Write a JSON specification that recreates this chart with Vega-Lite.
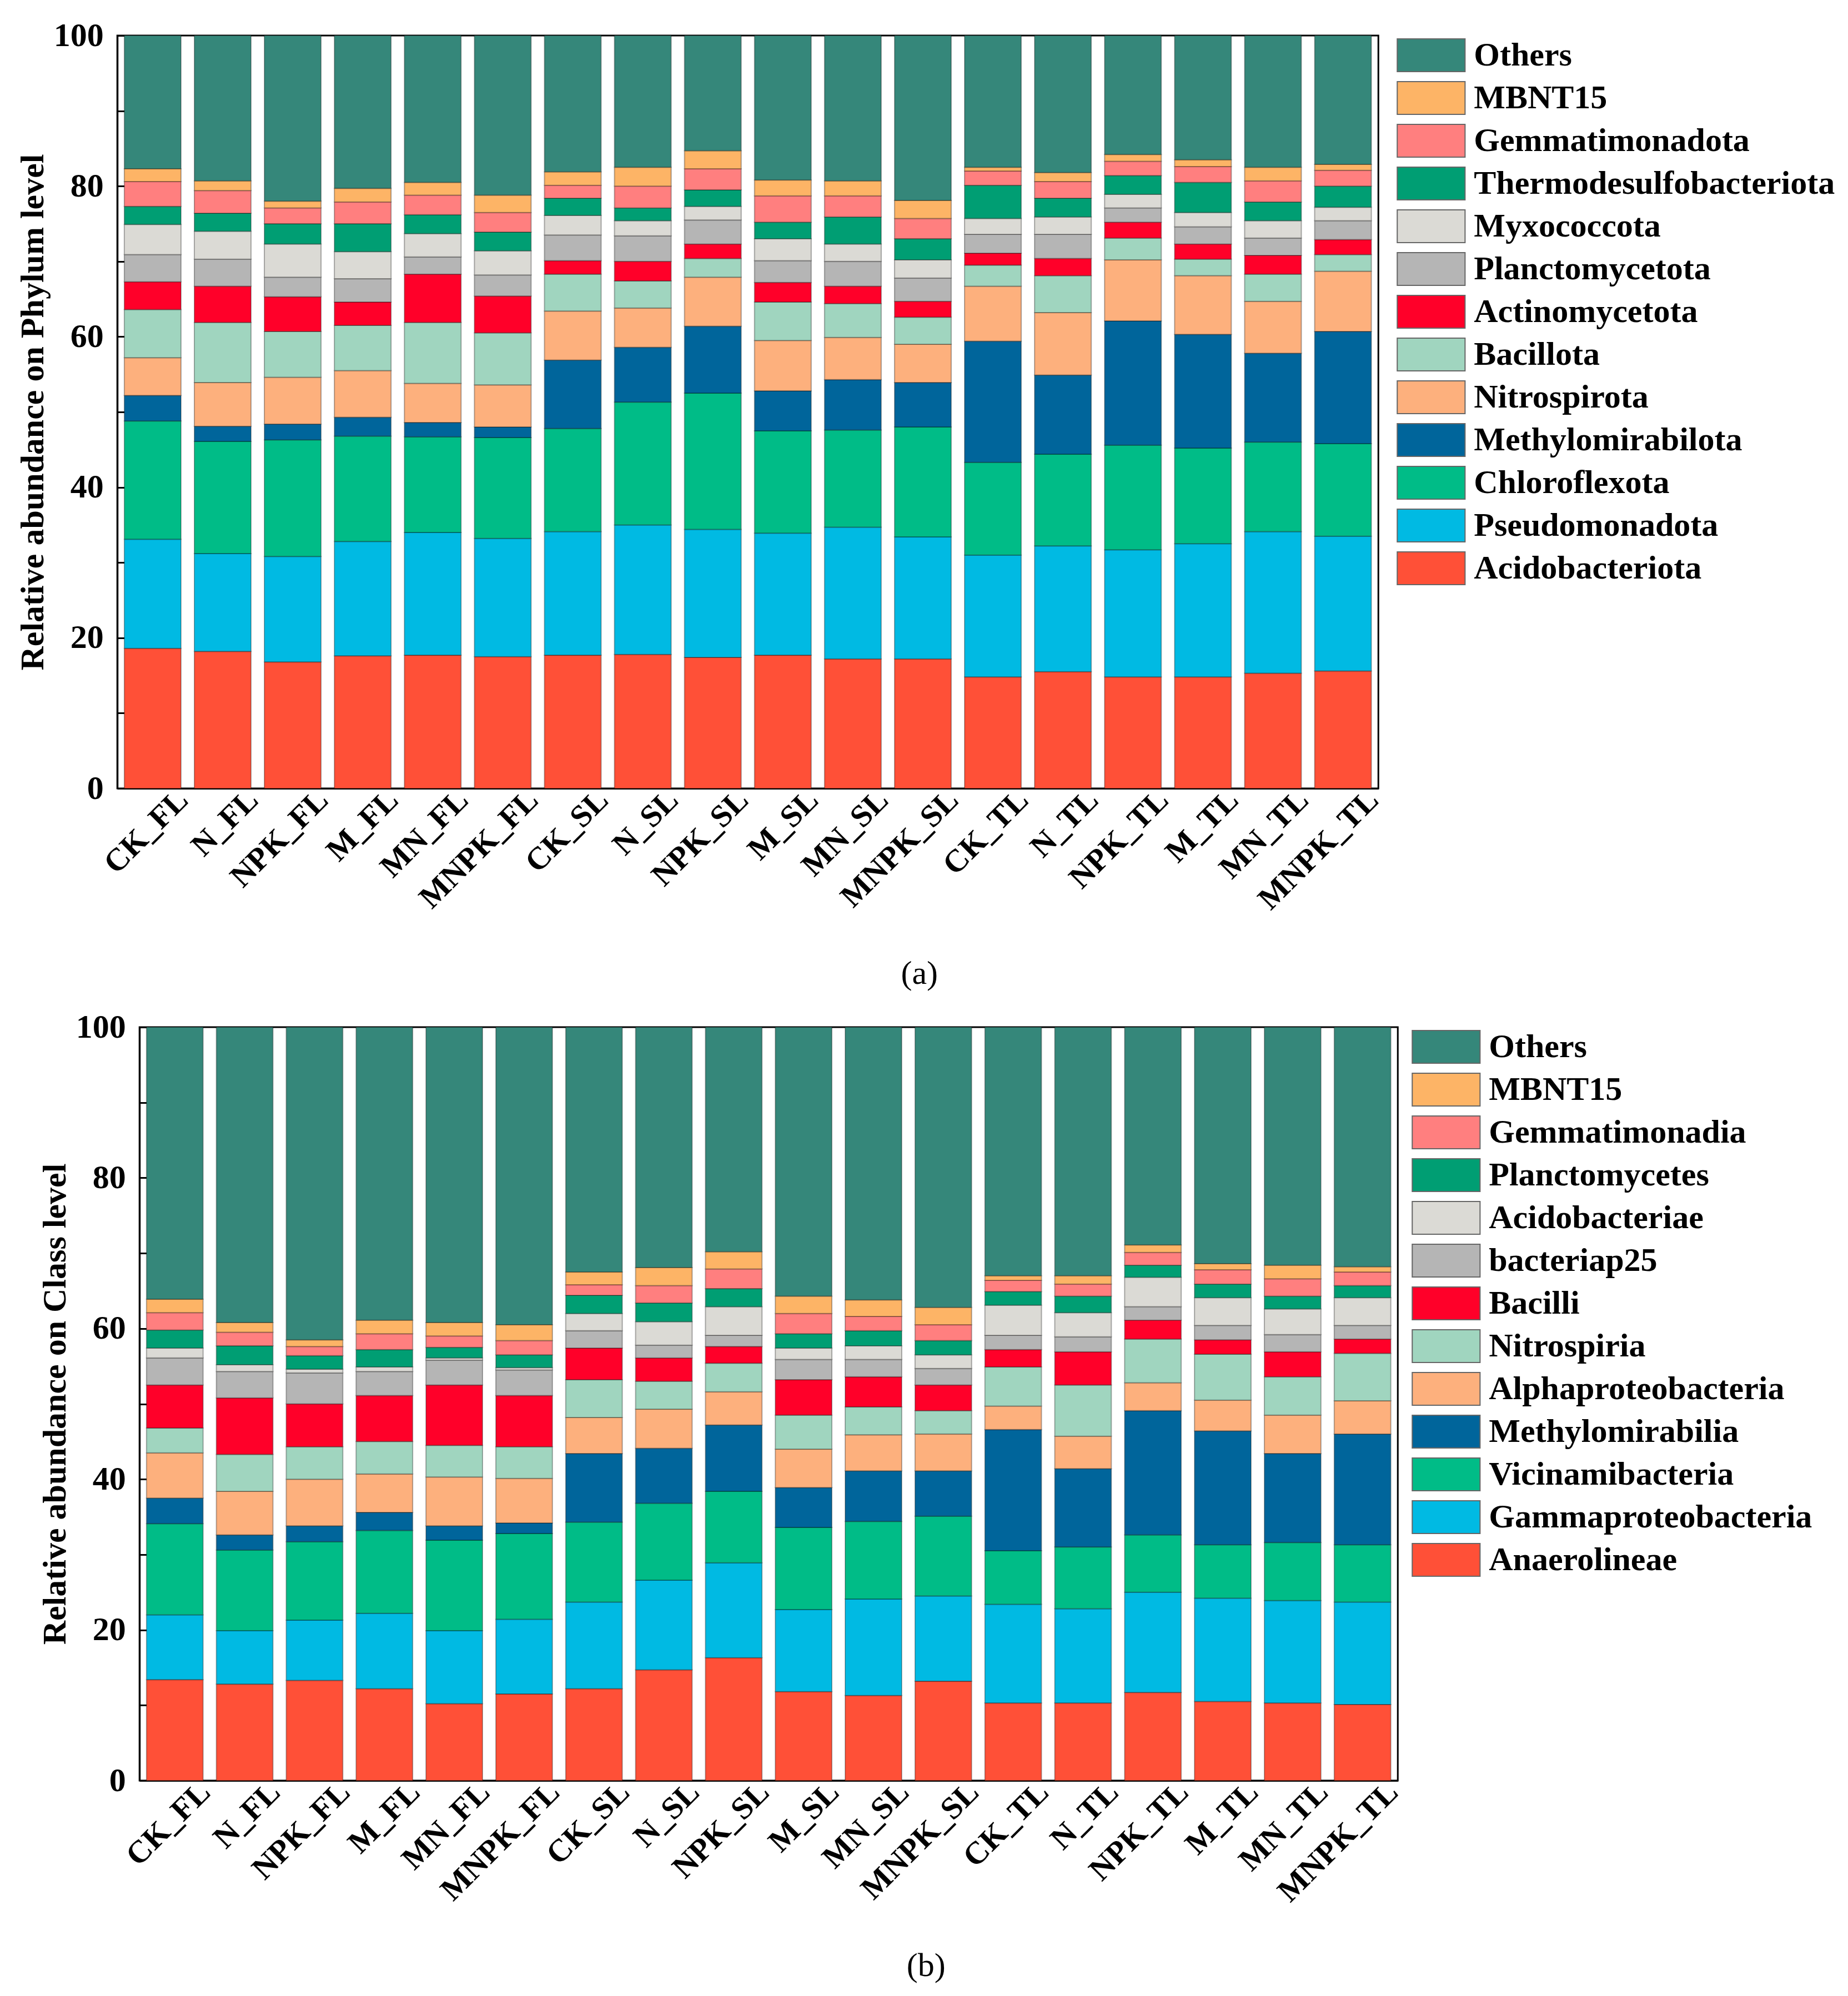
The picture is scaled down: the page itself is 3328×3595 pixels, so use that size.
{
"$schema": "https://vega.github.io/schema/vega-lite/v6.json",
"background": "white",
"padding": {"left": 27, "top": 32, "right": 10, "bottom": 10},
"spacing": 33,
"center": true,
"config": {
  "font": "Liberation Serif",
  "view": {"stroke": "black", "strokeWidth": 3},
  "axis": {"labelFont": "Liberation Serif", "labelFontWeight": "bold", "labelFontSize": 60, "labelColor": "black", "labelLimit": 1000, "titleFont": "Liberation Serif", "titleFontWeight": "bold", "titleFontSize": 60, "titleColor": "black", "titleLimit": 3000, "domainColor": "black", "domainWidth": 3, "tickColor": "black", "tickWidth": 3, "grid": false},
  "legend": {"title": null, "orient": "right", "labelFont": "Liberation Serif", "labelFontWeight": "bold", "labelFontSize": 60, "labelColor": "black", "labelLimit": 1000, "symbolType": "M-1,-1H3.14V1H-1Z", "symbolSize": 3481, "symbolStrokeColor": "#666666", "symbolStrokeWidth": 2, "symbolOpacity": 1, "labelOffset": 78, "rowPadding": 10, "padding": 5, "offset": 18}
},
"datasets": {
"phylumRank": [{"taxon":"Acidobacteriota","rank":1},{"taxon":"Pseudomonadota","rank":2},{"taxon":"Chloroflexota","rank":3},{"taxon":"Methylomirabilota","rank":4},{"taxon":"Nitrospirota","rank":5},{"taxon":"Bacillota","rank":6},{"taxon":"Actinomycetota","rank":7},{"taxon":"Planctomycetota","rank":8},{"taxon":"Myxococcota","rank":9},{"taxon":"Thermodesulfobacteriota","rank":10},{"taxon":"Gemmatimonadota","rank":11},{"taxon":"MBNT15","rank":12},{"taxon":"Others","rank":13}],
"classRank": [{"taxon":"Anaerolineae","rank":1},{"taxon":"Gammaproteobacteria","rank":2},{"taxon":"Vicinamibacteria","rank":3},{"taxon":"Methylomirabilia","rank":4},{"taxon":"Alphaproteobacteria","rank":5},{"taxon":"Nitrospiria","rank":6},{"taxon":"Bacilli","rank":7},{"taxon":"bacteriap25","rank":8},{"taxon":"Acidobacteriae","rank":9},{"taxon":"Planctomycetes","rank":10},{"taxon":"Gemmatimonadia","rank":11},{"taxon":"MBNT15","rank":12},{"taxon":"Others","rank":13}],
"phylum": [
{"sample":"CK_FL","taxon":"Acidobacteriota","value":18.6},{"sample":"CK_FL","taxon":"Pseudomonadota","value":14.5},{"sample":"CK_FL","taxon":"Chloroflexota","value":15.7},{"sample":"CK_FL","taxon":"Methylomirabilota","value":3.4},{"sample":"CK_FL","taxon":"Nitrospirota","value":5.0},{"sample":"CK_FL","taxon":"Bacillota","value":6.4},{"sample":"CK_FL","taxon":"Actinomycetota","value":3.7},{"sample":"CK_FL","taxon":"Planctomycetota","value":3.6},{"sample":"CK_FL","taxon":"Myxococcota","value":4.0},{"sample":"CK_FL","taxon":"Thermodesulfobacteriota","value":2.4},{"sample":"CK_FL","taxon":"Gemmatimonadota","value":3.3},{"sample":"CK_FL","taxon":"MBNT15","value":1.7},{"sample":"CK_FL","taxon":"Others","value":17.7},
{"sample":"N_FL","taxon":"Acidobacteriota","value":18.2},{"sample":"N_FL","taxon":"Pseudomonadota","value":13.0},{"sample":"N_FL","taxon":"Chloroflexota","value":14.9},{"sample":"N_FL","taxon":"Methylomirabilota","value":2.0},{"sample":"N_FL","taxon":"Nitrospirota","value":5.8},{"sample":"N_FL","taxon":"Bacillota","value":8.0},{"sample":"N_FL","taxon":"Actinomycetota","value":4.8},{"sample":"N_FL","taxon":"Planctomycetota","value":3.6},{"sample":"N_FL","taxon":"Myxococcota","value":3.7},{"sample":"N_FL","taxon":"Thermodesulfobacteriota","value":2.4},{"sample":"N_FL","taxon":"Gemmatimonadota","value":3.0},{"sample":"N_FL","taxon":"MBNT15","value":1.3},{"sample":"N_FL","taxon":"Others","value":19.3},
{"sample":"NPK_FL","taxon":"Acidobacteriota","value":16.8},{"sample":"NPK_FL","taxon":"Pseudomonadota","value":14.0},{"sample":"NPK_FL","taxon":"Chloroflexota","value":15.5},{"sample":"NPK_FL","taxon":"Methylomirabilota","value":2.1},{"sample":"NPK_FL","taxon":"Nitrospirota","value":6.2},{"sample":"NPK_FL","taxon":"Bacillota","value":6.1},{"sample":"NPK_FL","taxon":"Actinomycetota","value":4.6},{"sample":"NPK_FL","taxon":"Planctomycetota","value":2.6},{"sample":"NPK_FL","taxon":"Myxococcota","value":4.4},{"sample":"NPK_FL","taxon":"Thermodesulfobacteriota","value":2.7},{"sample":"NPK_FL","taxon":"Gemmatimonadota","value":2.1},{"sample":"NPK_FL","taxon":"MBNT15","value":0.9},{"sample":"NPK_FL","taxon":"Others","value":22.0},
{"sample":"M_FL","taxon":"Acidobacteriota","value":17.6},{"sample":"M_FL","taxon":"Pseudomonadota","value":15.2},{"sample":"M_FL","taxon":"Chloroflexota","value":14.0},{"sample":"M_FL","taxon":"Methylomirabilota","value":2.5},{"sample":"M_FL","taxon":"Nitrospirota","value":6.2},{"sample":"M_FL","taxon":"Bacillota","value":6.0},{"sample":"M_FL","taxon":"Actinomycetota","value":3.1},{"sample":"M_FL","taxon":"Planctomycetota","value":3.1},{"sample":"M_FL","taxon":"Myxococcota","value":3.6},{"sample":"M_FL","taxon":"Thermodesulfobacteriota","value":3.7},{"sample":"M_FL","taxon":"Gemmatimonadota","value":2.9},{"sample":"M_FL","taxon":"MBNT15","value":1.8},{"sample":"M_FL","taxon":"Others","value":20.3},
{"sample":"MN_FL","taxon":"Acidobacteriota","value":17.7},{"sample":"MN_FL","taxon":"Pseudomonadota","value":16.3},{"sample":"MN_FL","taxon":"Chloroflexota","value":12.7},{"sample":"MN_FL","taxon":"Methylomirabilota","value":1.9},{"sample":"MN_FL","taxon":"Nitrospirota","value":5.2},{"sample":"MN_FL","taxon":"Bacillota","value":8.1},{"sample":"MN_FL","taxon":"Actinomycetota","value":6.4},{"sample":"MN_FL","taxon":"Planctomycetota","value":2.3},{"sample":"MN_FL","taxon":"Myxococcota","value":3.1},{"sample":"MN_FL","taxon":"Thermodesulfobacteriota","value":2.5},{"sample":"MN_FL","taxon":"Gemmatimonadota","value":2.6},{"sample":"MN_FL","taxon":"MBNT15","value":1.7},{"sample":"MN_FL","taxon":"Others","value":19.5},
{"sample":"MNPK_FL","taxon":"Acidobacteriota","value":17.5},{"sample":"MNPK_FL","taxon":"Pseudomonadota","value":15.7},{"sample":"MNPK_FL","taxon":"Chloroflexota","value":13.4},{"sample":"MNPK_FL","taxon":"Methylomirabilota","value":1.4},{"sample":"MNPK_FL","taxon":"Nitrospirota","value":5.6},{"sample":"MNPK_FL","taxon":"Bacillota","value":6.9},{"sample":"MNPK_FL","taxon":"Actinomycetota","value":4.9},{"sample":"MNPK_FL","taxon":"Planctomycetota","value":2.8},{"sample":"MNPK_FL","taxon":"Myxococcota","value":3.2},{"sample":"MNPK_FL","taxon":"Thermodesulfobacteriota","value":2.5},{"sample":"MNPK_FL","taxon":"Gemmatimonadota","value":2.6},{"sample":"MNPK_FL","taxon":"MBNT15","value":2.3},{"sample":"MNPK_FL","taxon":"Others","value":21.2},
{"sample":"CK_SL","taxon":"Acidobacteriota","value":17.7},{"sample":"CK_SL","taxon":"Pseudomonadota","value":16.4},{"sample":"CK_SL","taxon":"Chloroflexota","value":13.7},{"sample":"CK_SL","taxon":"Methylomirabilota","value":9.1},{"sample":"CK_SL","taxon":"Nitrospirota","value":6.5},{"sample":"CK_SL","taxon":"Bacillota","value":4.9},{"sample":"CK_SL","taxon":"Actinomycetota","value":1.8},{"sample":"CK_SL","taxon":"Planctomycetota","value":3.4},{"sample":"CK_SL","taxon":"Myxococcota","value":2.6},{"sample":"CK_SL","taxon":"Thermodesulfobacteriota","value":2.3},{"sample":"CK_SL","taxon":"Gemmatimonadota","value":1.7},{"sample":"CK_SL","taxon":"MBNT15","value":1.8},{"sample":"CK_SL","taxon":"Others","value":18.1},
{"sample":"N_SL","taxon":"Acidobacteriota","value":17.8},{"sample":"N_SL","taxon":"Pseudomonadota","value":17.2},{"sample":"N_SL","taxon":"Chloroflexota","value":16.3},{"sample":"N_SL","taxon":"Methylomirabilota","value":7.3},{"sample":"N_SL","taxon":"Nitrospirota","value":5.2},{"sample":"N_SL","taxon":"Bacillota","value":3.6},{"sample":"N_SL","taxon":"Actinomycetota","value":2.6},{"sample":"N_SL","taxon":"Planctomycetota","value":3.4},{"sample":"N_SL","taxon":"Myxococcota","value":2.0},{"sample":"N_SL","taxon":"Thermodesulfobacteriota","value":1.7},{"sample":"N_SL","taxon":"Gemmatimonadota","value":2.9},{"sample":"N_SL","taxon":"MBNT15","value":2.5},{"sample":"N_SL","taxon":"Others","value":17.5},
{"sample":"NPK_SL","taxon":"Acidobacteriota","value":17.4},{"sample":"NPK_SL","taxon":"Pseudomonadota","value":17.0},{"sample":"NPK_SL","taxon":"Chloroflexota","value":18.1},{"sample":"NPK_SL","taxon":"Methylomirabilota","value":8.9},{"sample":"NPK_SL","taxon":"Nitrospirota","value":6.5},{"sample":"NPK_SL","taxon":"Bacillota","value":2.5},{"sample":"NPK_SL","taxon":"Actinomycetota","value":1.9},{"sample":"NPK_SL","taxon":"Planctomycetota","value":3.2},{"sample":"NPK_SL","taxon":"Myxococcota","value":1.8},{"sample":"NPK_SL","taxon":"Thermodesulfobacteriota","value":2.2},{"sample":"NPK_SL","taxon":"Gemmatimonadota","value":2.8},{"sample":"NPK_SL","taxon":"MBNT15","value":2.4},{"sample":"NPK_SL","taxon":"Others","value":15.3},
{"sample":"M_SL","taxon":"Acidobacteriota","value":17.7},{"sample":"M_SL","taxon":"Pseudomonadota","value":16.2},{"sample":"M_SL","taxon":"Chloroflexota","value":13.6},{"sample":"M_SL","taxon":"Methylomirabilota","value":5.3},{"sample":"M_SL","taxon":"Nitrospirota","value":6.7},{"sample":"M_SL","taxon":"Bacillota","value":5.1},{"sample":"M_SL","taxon":"Actinomycetota","value":2.6},{"sample":"M_SL","taxon":"Planctomycetota","value":2.9},{"sample":"M_SL","taxon":"Myxococcota","value":2.9},{"sample":"M_SL","taxon":"Thermodesulfobacteriota","value":2.2},{"sample":"M_SL","taxon":"Gemmatimonadota","value":3.5},{"sample":"M_SL","taxon":"MBNT15","value":2.1},{"sample":"M_SL","taxon":"Others","value":19.2},
{"sample":"MN_SL","taxon":"Acidobacteriota","value":17.2},{"sample":"MN_SL","taxon":"Pseudomonadota","value":17.5},{"sample":"MN_SL","taxon":"Chloroflexota","value":12.9},{"sample":"MN_SL","taxon":"Methylomirabilota","value":6.7},{"sample":"MN_SL","taxon":"Nitrospirota","value":5.6},{"sample":"MN_SL","taxon":"Bacillota","value":4.5},{"sample":"MN_SL","taxon":"Actinomycetota","value":2.3},{"sample":"MN_SL","taxon":"Planctomycetota","value":3.3},{"sample":"MN_SL","taxon":"Myxococcota","value":2.3},{"sample":"MN_SL","taxon":"Thermodesulfobacteriota","value":3.6},{"sample":"MN_SL","taxon":"Gemmatimonadota","value":2.8},{"sample":"MN_SL","taxon":"MBNT15","value":2.0},{"sample":"MN_SL","taxon":"Others","value":19.3},
{"sample":"MNPK_SL","taxon":"Acidobacteriota","value":17.2},{"sample":"MNPK_SL","taxon":"Pseudomonadota","value":16.2},{"sample":"MNPK_SL","taxon":"Chloroflexota","value":14.6},{"sample":"MNPK_SL","taxon":"Methylomirabilota","value":5.9},{"sample":"MNPK_SL","taxon":"Nitrospirota","value":5.1},{"sample":"MNPK_SL","taxon":"Bacillota","value":3.6},{"sample":"MNPK_SL","taxon":"Actinomycetota","value":2.1},{"sample":"MNPK_SL","taxon":"Planctomycetota","value":3.1},{"sample":"MNPK_SL","taxon":"Myxococcota","value":2.4},{"sample":"MNPK_SL","taxon":"Thermodesulfobacteriota","value":2.8},{"sample":"MNPK_SL","taxon":"Gemmatimonadota","value":2.7},{"sample":"MNPK_SL","taxon":"MBNT15","value":2.4},{"sample":"MNPK_SL","taxon":"Others","value":21.9},
{"sample":"CK_TL","taxon":"Acidobacteriota","value":14.8},{"sample":"CK_TL","taxon":"Pseudomonadota","value":16.2},{"sample":"CK_TL","taxon":"Chloroflexota","value":12.3},{"sample":"CK_TL","taxon":"Methylomirabilota","value":16.1},{"sample":"CK_TL","taxon":"Nitrospirota","value":7.3},{"sample":"CK_TL","taxon":"Bacillota","value":2.8},{"sample":"CK_TL","taxon":"Actinomycetota","value":1.6},{"sample":"CK_TL","taxon":"Planctomycetota","value":2.5},{"sample":"CK_TL","taxon":"Myxococcota","value":2.1},{"sample":"CK_TL","taxon":"Thermodesulfobacteriota","value":4.4},{"sample":"CK_TL","taxon":"Gemmatimonadota","value":1.9},{"sample":"CK_TL","taxon":"MBNT15","value":0.5},{"sample":"CK_TL","taxon":"Others","value":17.5},
{"sample":"N_TL","taxon":"Acidobacteriota","value":15.5},{"sample":"N_TL","taxon":"Pseudomonadota","value":16.7},{"sample":"N_TL","taxon":"Chloroflexota","value":12.2},{"sample":"N_TL","taxon":"Methylomirabilota","value":10.5},{"sample":"N_TL","taxon":"Nitrospirota","value":8.3},{"sample":"N_TL","taxon":"Bacillota","value":4.9},{"sample":"N_TL","taxon":"Actinomycetota","value":2.3},{"sample":"N_TL","taxon":"Planctomycetota","value":3.2},{"sample":"N_TL","taxon":"Myxococcota","value":2.3},{"sample":"N_TL","taxon":"Thermodesulfobacteriota","value":2.5},{"sample":"N_TL","taxon":"Gemmatimonadota","value":2.2},{"sample":"N_TL","taxon":"MBNT15","value":1.2},{"sample":"N_TL","taxon":"Others","value":18.2},
{"sample":"NPK_TL","taxon":"Acidobacteriota","value":14.8},{"sample":"NPK_TL","taxon":"Pseudomonadota","value":16.9},{"sample":"NPK_TL","taxon":"Chloroflexota","value":13.9},{"sample":"NPK_TL","taxon":"Methylomirabilota","value":16.5},{"sample":"NPK_TL","taxon":"Nitrospirota","value":8.1},{"sample":"NPK_TL","taxon":"Bacillota","value":2.9},{"sample":"NPK_TL","taxon":"Actinomycetota","value":2.1},{"sample":"NPK_TL","taxon":"Planctomycetota","value":1.9},{"sample":"NPK_TL","taxon":"Myxococcota","value":1.8},{"sample":"NPK_TL","taxon":"Thermodesulfobacteriota","value":2.5},{"sample":"NPK_TL","taxon":"Gemmatimonadota","value":1.9},{"sample":"NPK_TL","taxon":"MBNT15","value":0.9},{"sample":"NPK_TL","taxon":"Others","value":15.8},
{"sample":"M_TL","taxon":"Acidobacteriota","value":14.8},{"sample":"M_TL","taxon":"Pseudomonadota","value":17.7},{"sample":"M_TL","taxon":"Chloroflexota","value":12.7},{"sample":"M_TL","taxon":"Methylomirabilota","value":15.1},{"sample":"M_TL","taxon":"Nitrospirota","value":7.8},{"sample":"M_TL","taxon":"Bacillota","value":2.2},{"sample":"M_TL","taxon":"Actinomycetota","value":2.0},{"sample":"M_TL","taxon":"Planctomycetota","value":2.3},{"sample":"M_TL","taxon":"Myxococcota","value":1.9},{"sample":"M_TL","taxon":"Thermodesulfobacteriota","value":4.0},{"sample":"M_TL","taxon":"Gemmatimonadota","value":2.1},{"sample":"M_TL","taxon":"MBNT15","value":0.9},{"sample":"M_TL","taxon":"Others","value":16.5},
{"sample":"MN_TL","taxon":"Acidobacteriota","value":15.3},{"sample":"MN_TL","taxon":"Pseudomonadota","value":18.8},{"sample":"MN_TL","taxon":"Chloroflexota","value":11.9},{"sample":"MN_TL","taxon":"Methylomirabilota","value":11.8},{"sample":"MN_TL","taxon":"Nitrospirota","value":6.9},{"sample":"MN_TL","taxon":"Bacillota","value":3.6},{"sample":"MN_TL","taxon":"Actinomycetota","value":2.5},{"sample":"MN_TL","taxon":"Planctomycetota","value":2.3},{"sample":"MN_TL","taxon":"Myxococcota","value":2.3},{"sample":"MN_TL","taxon":"Thermodesulfobacteriota","value":2.5},{"sample":"MN_TL","taxon":"Gemmatimonadota","value":2.8},{"sample":"MN_TL","taxon":"MBNT15","value":1.8},{"sample":"MN_TL","taxon":"Others","value":17.5},
{"sample":"MNPK_TL","taxon":"Acidobacteriota","value":15.6},{"sample":"MNPK_TL","taxon":"Pseudomonadota","value":17.9},{"sample":"MNPK_TL","taxon":"Chloroflexota","value":12.3},{"sample":"MNPK_TL","taxon":"Methylomirabilota","value":14.9},{"sample":"MNPK_TL","taxon":"Nitrospirota","value":8.0},{"sample":"MNPK_TL","taxon":"Bacillota","value":2.2},{"sample":"MNPK_TL","taxon":"Actinomycetota","value":2.0},{"sample":"MNPK_TL","taxon":"Planctomycetota","value":2.5},{"sample":"MNPK_TL","taxon":"Myxococcota","value":1.8},{"sample":"MNPK_TL","taxon":"Thermodesulfobacteriota","value":2.8},{"sample":"MNPK_TL","taxon":"Gemmatimonadota","value":2.1},{"sample":"MNPK_TL","taxon":"MBNT15","value":0.8},{"sample":"MNPK_TL","taxon":"Others","value":17.1}
],
"class": [
{"sample":"CK_FL","taxon":"Anaerolineae","value":13.4},{"sample":"CK_FL","taxon":"Gammaproteobacteria","value":8.6},{"sample":"CK_FL","taxon":"Vicinamibacteria","value":12.1},{"sample":"CK_FL","taxon":"Methylomirabilia","value":3.4},{"sample":"CK_FL","taxon":"Alphaproteobacteria","value":6.0},{"sample":"CK_FL","taxon":"Nitrospiria","value":3.3},{"sample":"CK_FL","taxon":"Bacilli","value":5.7},{"sample":"CK_FL","taxon":"bacteriap25","value":3.6},{"sample":"CK_FL","taxon":"Acidobacteriae","value":1.3},{"sample":"CK_FL","taxon":"Planctomycetes","value":2.4},{"sample":"CK_FL","taxon":"Gemmatimonadia","value":2.3},{"sample":"CK_FL","taxon":"MBNT15","value":1.8},{"sample":"CK_FL","taxon":"Others","value":36.1},
{"sample":"N_FL","taxon":"Anaerolineae","value":12.8},{"sample":"N_FL","taxon":"Gammaproteobacteria","value":7.1},{"sample":"N_FL","taxon":"Vicinamibacteria","value":10.7},{"sample":"N_FL","taxon":"Methylomirabilia","value":2.0},{"sample":"N_FL","taxon":"Alphaproteobacteria","value":5.8},{"sample":"N_FL","taxon":"Nitrospiria","value":4.9},{"sample":"N_FL","taxon":"Bacilli","value":7.5},{"sample":"N_FL","taxon":"bacteriap25","value":3.5},{"sample":"N_FL","taxon":"Acidobacteriae","value":0.9},{"sample":"N_FL","taxon":"Planctomycetes","value":2.5},{"sample":"N_FL","taxon":"Gemmatimonadia","value":1.8},{"sample":"N_FL","taxon":"MBNT15","value":1.3},{"sample":"N_FL","taxon":"Others","value":39.2},
{"sample":"NPK_FL","taxon":"Anaerolineae","value":13.3},{"sample":"NPK_FL","taxon":"Gammaproteobacteria","value":8.0},{"sample":"NPK_FL","taxon":"Vicinamibacteria","value":10.4},{"sample":"NPK_FL","taxon":"Methylomirabilia","value":2.1},{"sample":"NPK_FL","taxon":"Alphaproteobacteria","value":6.2},{"sample":"NPK_FL","taxon":"Nitrospiria","value":4.3},{"sample":"NPK_FL","taxon":"Bacilli","value":5.7},{"sample":"NPK_FL","taxon":"bacteriap25","value":4.1},{"sample":"NPK_FL","taxon":"Acidobacteriae","value":0.5},{"sample":"NPK_FL","taxon":"Planctomycetes","value":1.8},{"sample":"NPK_FL","taxon":"Gemmatimonadia","value":1.2},{"sample":"NPK_FL","taxon":"MBNT15","value":0.9},{"sample":"NPK_FL","taxon":"Others","value":41.5},
{"sample":"M_FL","taxon":"Anaerolineae","value":12.2},{"sample":"M_FL","taxon":"Gammaproteobacteria","value":10.0},{"sample":"M_FL","taxon":"Vicinamibacteria","value":11.0},{"sample":"M_FL","taxon":"Methylomirabilia","value":2.4},{"sample":"M_FL","taxon":"Alphaproteobacteria","value":5.1},{"sample":"M_FL","taxon":"Nitrospiria","value":4.3},{"sample":"M_FL","taxon":"Bacilli","value":6.1},{"sample":"M_FL","taxon":"bacteriap25","value":3.2},{"sample":"M_FL","taxon":"Acidobacteriae","value":0.6},{"sample":"M_FL","taxon":"Planctomycetes","value":2.3},{"sample":"M_FL","taxon":"Gemmatimonadia","value":2.1},{"sample":"M_FL","taxon":"MBNT15","value":1.8},{"sample":"M_FL","taxon":"Others","value":38.9},
{"sample":"MN_FL","taxon":"Anaerolineae","value":10.2},{"sample":"MN_FL","taxon":"Gammaproteobacteria","value":9.7},{"sample":"MN_FL","taxon":"Vicinamibacteria","value":12.0},{"sample":"MN_FL","taxon":"Methylomirabilia","value":1.9},{"sample":"MN_FL","taxon":"Alphaproteobacteria","value":6.5},{"sample":"MN_FL","taxon":"Nitrospiria","value":4.2},{"sample":"MN_FL","taxon":"Bacilli","value":8.0},{"sample":"MN_FL","taxon":"bacteriap25","value":3.3},{"sample":"MN_FL","taxon":"Acidobacteriae","value":0.3},{"sample":"MN_FL","taxon":"Planctomycetes","value":1.4},{"sample":"MN_FL","taxon":"Gemmatimonadia","value":1.5},{"sample":"MN_FL","taxon":"MBNT15","value":1.8},{"sample":"MN_FL","taxon":"Others","value":39.2},
{"sample":"MNPK_FL","taxon":"Anaerolineae","value":11.5},{"sample":"MNPK_FL","taxon":"Gammaproteobacteria","value":9.9},{"sample":"MNPK_FL","taxon":"Vicinamibacteria","value":11.4},{"sample":"MNPK_FL","taxon":"Methylomirabilia","value":1.4},{"sample":"MNPK_FL","taxon":"Alphaproteobacteria","value":5.9},{"sample":"MNPK_FL","taxon":"Nitrospiria","value":4.2},{"sample":"MNPK_FL","taxon":"Bacilli","value":6.8},{"sample":"MNPK_FL","taxon":"bacteriap25","value":3.4},{"sample":"MNPK_FL","taxon":"Acidobacteriae","value":0.3},{"sample":"MNPK_FL","taxon":"Planctomycetes","value":1.7},{"sample":"MNPK_FL","taxon":"Gemmatimonadia","value":1.9},{"sample":"MNPK_FL","taxon":"MBNT15","value":2.1},{"sample":"MNPK_FL","taxon":"Others","value":39.5},
{"sample":"CK_SL","taxon":"Anaerolineae","value":12.2},{"sample":"CK_SL","taxon":"Gammaproteobacteria","value":11.5},{"sample":"CK_SL","taxon":"Vicinamibacteria","value":10.6},{"sample":"CK_SL","taxon":"Methylomirabilia","value":9.1},{"sample":"CK_SL","taxon":"Alphaproteobacteria","value":4.8},{"sample":"CK_SL","taxon":"Nitrospiria","value":5.0},{"sample":"CK_SL","taxon":"Bacilli","value":4.2},{"sample":"CK_SL","taxon":"bacteriap25","value":2.3},{"sample":"CK_SL","taxon":"Acidobacteriae","value":2.3},{"sample":"CK_SL","taxon":"Planctomycetes","value":2.4},{"sample":"CK_SL","taxon":"Gemmatimonadia","value":1.4},{"sample":"CK_SL","taxon":"MBNT15","value":1.7},{"sample":"CK_SL","taxon":"Others","value":32.5},
{"sample":"N_SL","taxon":"Anaerolineae","value":14.7},{"sample":"N_SL","taxon":"Gammaproteobacteria","value":11.9},{"sample":"N_SL","taxon":"Vicinamibacteria","value":10.2},{"sample":"N_SL","taxon":"Methylomirabilia","value":7.3},{"sample":"N_SL","taxon":"Alphaproteobacteria","value":5.2},{"sample":"N_SL","taxon":"Nitrospiria","value":3.7},{"sample":"N_SL","taxon":"Bacilli","value":3.1},{"sample":"N_SL","taxon":"bacteriap25","value":1.7},{"sample":"N_SL","taxon":"Acidobacteriae","value":3.1},{"sample":"N_SL","taxon":"Planctomycetes","value":2.5},{"sample":"N_SL","taxon":"Gemmatimonadia","value":2.3},{"sample":"N_SL","taxon":"MBNT15","value":2.4},{"sample":"N_SL","taxon":"Others","value":31.9},
{"sample":"NPK_SL","taxon":"Anaerolineae","value":16.3},{"sample":"NPK_SL","taxon":"Gammaproteobacteria","value":12.6},{"sample":"NPK_SL","taxon":"Vicinamibacteria","value":9.5},{"sample":"NPK_SL","taxon":"Methylomirabilia","value":8.8},{"sample":"NPK_SL","taxon":"Alphaproteobacteria","value":4.4},{"sample":"NPK_SL","taxon":"Nitrospiria","value":3.8},{"sample":"NPK_SL","taxon":"Bacilli","value":2.2},{"sample":"NPK_SL","taxon":"bacteriap25","value":1.5},{"sample":"NPK_SL","taxon":"Acidobacteriae","value":3.8},{"sample":"NPK_SL","taxon":"Planctomycetes","value":2.4},{"sample":"NPK_SL","taxon":"Gemmatimonadia","value":2.6},{"sample":"NPK_SL","taxon":"MBNT15","value":2.3},{"sample":"NPK_SL","taxon":"Others","value":29.8},
{"sample":"M_SL","taxon":"Anaerolineae","value":11.8},{"sample":"M_SL","taxon":"Gammaproteobacteria","value":10.9},{"sample":"M_SL","taxon":"Vicinamibacteria","value":10.9},{"sample":"M_SL","taxon":"Methylomirabilia","value":5.3},{"sample":"M_SL","taxon":"Alphaproteobacteria","value":5.1},{"sample":"M_SL","taxon":"Nitrospiria","value":4.5},{"sample":"M_SL","taxon":"Bacilli","value":4.7},{"sample":"M_SL","taxon":"bacteriap25","value":2.7},{"sample":"M_SL","taxon":"Acidobacteriae","value":1.5},{"sample":"M_SL","taxon":"Planctomycetes","value":1.9},{"sample":"M_SL","taxon":"Gemmatimonadia","value":2.7},{"sample":"M_SL","taxon":"MBNT15","value":2.3},{"sample":"M_SL","taxon":"Others","value":35.7},
{"sample":"MN_SL","taxon":"Anaerolineae","value":11.3},{"sample":"MN_SL","taxon":"Gammaproteobacteria","value":12.8},{"sample":"MN_SL","taxon":"Vicinamibacteria","value":10.3},{"sample":"MN_SL","taxon":"Methylomirabilia","value":6.7},{"sample":"MN_SL","taxon":"Alphaproteobacteria","value":4.8},{"sample":"MN_SL","taxon":"Nitrospiria","value":3.7},{"sample":"MN_SL","taxon":"Bacilli","value":4.0},{"sample":"MN_SL","taxon":"bacteriap25","value":2.3},{"sample":"MN_SL","taxon":"Acidobacteriae","value":1.8},{"sample":"MN_SL","taxon":"Planctomycetes","value":2.0},{"sample":"MN_SL","taxon":"Gemmatimonadia","value":1.9},{"sample":"MN_SL","taxon":"MBNT15","value":2.2},{"sample":"MN_SL","taxon":"Others","value":36.2},
{"sample":"MNPK_SL","taxon":"Anaerolineae","value":13.2},{"sample":"MNPK_SL","taxon":"Gammaproteobacteria","value":11.3},{"sample":"MNPK_SL","taxon":"Vicinamibacteria","value":10.6},{"sample":"MNPK_SL","taxon":"Methylomirabilia","value":6.0},{"sample":"MNPK_SL","taxon":"Alphaproteobacteria","value":4.9},{"sample":"MNPK_SL","taxon":"Nitrospiria","value":3.1},{"sample":"MNPK_SL","taxon":"Bacilli","value":3.4},{"sample":"MNPK_SL","taxon":"bacteriap25","value":2.2},{"sample":"MNPK_SL","taxon":"Acidobacteriae","value":1.8},{"sample":"MNPK_SL","taxon":"Planctomycetes","value":1.9},{"sample":"MNPK_SL","taxon":"Gemmatimonadia","value":2.1},{"sample":"MNPK_SL","taxon":"MBNT15","value":2.3},{"sample":"MNPK_SL","taxon":"Others","value":37.2},
{"sample":"CK_TL","taxon":"Anaerolineae","value":10.3},{"sample":"CK_TL","taxon":"Gammaproteobacteria","value":13.1},{"sample":"CK_TL","taxon":"Vicinamibacteria","value":7.1},{"sample":"CK_TL","taxon":"Methylomirabilia","value":16.1},{"sample":"CK_TL","taxon":"Alphaproteobacteria","value":3.1},{"sample":"CK_TL","taxon":"Nitrospiria","value":5.2},{"sample":"CK_TL","taxon":"Bacilli","value":2.3},{"sample":"CK_TL","taxon":"bacteriap25","value":1.9},{"sample":"CK_TL","taxon":"Acidobacteriae","value":4.0},{"sample":"CK_TL","taxon":"Planctomycetes","value":1.8},{"sample":"CK_TL","taxon":"Gemmatimonadia","value":1.5},{"sample":"CK_TL","taxon":"MBNT15","value":0.6},{"sample":"CK_TL","taxon":"Others","value":33.0},
{"sample":"N_TL","taxon":"Anaerolineae","value":10.3},{"sample":"N_TL","taxon":"Gammaproteobacteria","value":12.5},{"sample":"N_TL","taxon":"Vicinamibacteria","value":8.2},{"sample":"N_TL","taxon":"Methylomirabilia","value":10.4},{"sample":"N_TL","taxon":"Alphaproteobacteria","value":4.3},{"sample":"N_TL","taxon":"Nitrospiria","value":6.8},{"sample":"N_TL","taxon":"Bacilli","value":4.4},{"sample":"N_TL","taxon":"bacteriap25","value":2.0},{"sample":"N_TL","taxon":"Acidobacteriae","value":3.2},{"sample":"N_TL","taxon":"Planctomycetes","value":2.2},{"sample":"N_TL","taxon":"Gemmatimonadia","value":1.6},{"sample":"N_TL","taxon":"MBNT15","value":1.1},{"sample":"N_TL","taxon":"Others","value":33.0},
{"sample":"NPK_TL","taxon":"Anaerolineae","value":11.7},{"sample":"NPK_TL","taxon":"Gammaproteobacteria","value":13.3},{"sample":"NPK_TL","taxon":"Vicinamibacteria","value":7.6},{"sample":"NPK_TL","taxon":"Methylomirabilia","value":16.5},{"sample":"NPK_TL","taxon":"Alphaproteobacteria","value":3.7},{"sample":"NPK_TL","taxon":"Nitrospiria","value":5.8},{"sample":"NPK_TL","taxon":"Bacilli","value":2.5},{"sample":"NPK_TL","taxon":"bacteriap25","value":1.8},{"sample":"NPK_TL","taxon":"Acidobacteriae","value":3.9},{"sample":"NPK_TL","taxon":"Planctomycetes","value":1.6},{"sample":"NPK_TL","taxon":"Gemmatimonadia","value":1.7},{"sample":"NPK_TL","taxon":"MBNT15","value":1.0},{"sample":"NPK_TL","taxon":"Others","value":28.9},
{"sample":"M_TL","taxon":"Anaerolineae","value":10.5},{"sample":"M_TL","taxon":"Gammaproteobacteria","value":13.7},{"sample":"M_TL","taxon":"Vicinamibacteria","value":7.1},{"sample":"M_TL","taxon":"Methylomirabilia","value":15.1},{"sample":"M_TL","taxon":"Alphaproteobacteria","value":4.1},{"sample":"M_TL","taxon":"Nitrospiria","value":6.1},{"sample":"M_TL","taxon":"Bacilli","value":1.9},{"sample":"M_TL","taxon":"bacteriap25","value":1.9},{"sample":"M_TL","taxon":"Acidobacteriae","value":3.7},{"sample":"M_TL","taxon":"Planctomycetes","value":1.8},{"sample":"M_TL","taxon":"Gemmatimonadia","value":1.9},{"sample":"M_TL","taxon":"MBNT15","value":0.8},{"sample":"M_TL","taxon":"Others","value":31.4},
{"sample":"MN_TL","taxon":"Anaerolineae","value":10.3},{"sample":"MN_TL","taxon":"Gammaproteobacteria","value":13.6},{"sample":"MN_TL","taxon":"Vicinamibacteria","value":7.7},{"sample":"MN_TL","taxon":"Methylomirabilia","value":11.8},{"sample":"MN_TL","taxon":"Alphaproteobacteria","value":5.1},{"sample":"MN_TL","taxon":"Nitrospiria","value":5.1},{"sample":"MN_TL","taxon":"Bacilli","value":3.3},{"sample":"MN_TL","taxon":"bacteriap25","value":2.3},{"sample":"MN_TL","taxon":"Acidobacteriae","value":3.4},{"sample":"MN_TL","taxon":"Planctomycetes","value":1.7},{"sample":"MN_TL","taxon":"Gemmatimonadia","value":2.3},{"sample":"MN_TL","taxon":"MBNT15","value":1.8},{"sample":"MN_TL","taxon":"Others","value":31.6},
{"sample":"MNPK_TL","taxon":"Anaerolineae","value":10.1},{"sample":"MNPK_TL","taxon":"Gammaproteobacteria","value":13.6},{"sample":"MNPK_TL","taxon":"Vicinamibacteria","value":7.6},{"sample":"MNPK_TL","taxon":"Methylomirabilia","value":14.7},{"sample":"MNPK_TL","taxon":"Alphaproteobacteria","value":4.4},{"sample":"MNPK_TL","taxon":"Nitrospiria","value":6.3},{"sample":"MNPK_TL","taxon":"Bacilli","value":1.9},{"sample":"MNPK_TL","taxon":"bacteriap25","value":1.8},{"sample":"MNPK_TL","taxon":"Acidobacteriae","value":3.7},{"sample":"MNPK_TL","taxon":"Planctomycetes","value":1.6},{"sample":"MNPK_TL","taxon":"Gemmatimonadia","value":1.8},{"sample":"MNPK_TL","taxon":"MBNT15","value":0.7},{"sample":"MNPK_TL","taxon":"Others","value":31.8}
]
},
"vconcat": [
{
  "data": {"name": "phylum"},
  "transform": [{"lookup": "taxon", "from": {"data": {"name": "phylumRank"}, "key": "taxon", "fields": ["rank"]}}],
  "width": 2271,
  "height": 1356,
  "mark": {"type": "bar", "stroke": "black", "strokeOpacity": 0.3, "strokeWidth": 2},
  "encoding": {
    "x": {"field": "sample", "type": "nominal", "sort": ["CK_FL","N_FL","NPK_FL","M_FL","MN_FL","MNPK_FL","CK_SL","N_SL","NPK_SL","M_SL","MN_SL","MNPK_SL","CK_TL","N_TL","NPK_TL","M_TL","MN_TL","MNPK_TL"], "scale": {"paddingInner": 0.19, "paddingOuter": 0.1},
      "axis": {"title": "(a)", "titleFontWeight": "normal", "titleX": 1444, "titleY": 333, "titleBaseline": "middle", "titleAlign": "center", "titleAngle": 0, "labelAngle": -45, "labelAlign": "right", "labelBaseline": "top", "labelPadding": 10, "labelOffset": 35, "labelFontSize": 57, "tickSize": -18, "labelOverlap": false}},
    "y": {"field": "value", "type": "quantitative", "stack": "zero", "scale": {"domain": [0, 100], "nice": false},
      "axis": {"title": "Relative abundance on Phylum level", "titlePadding": 6, "values": [0,10,20,30,40,50,60,70,80,90,100], "labelExpr": "datum.value % 20 === 0 ? datum.label : ''", "tickSize": -18, "labelPadding": 43}},
    "order": {"field": "rank", "type": "quantitative", "sort": "ascending"},
    "color": {"field": "taxon", "type": "nominal",
      "sort": ["Others","MBNT15","Gemmatimonadota","Thermodesulfobacteriota","Myxococcota","Planctomycetota","Actinomycetota","Bacillota","Nitrospirota","Methylomirabilota","Chloroflexota","Pseudomonadota","Acidobacteriota"],
      "scale": {"domain": ["Others","MBNT15","Gemmatimonadota","Thermodesulfobacteriota","Myxococcota","Planctomycetota","Actinomycetota","Bacillota","Nitrospirota","Methylomirabilota","Chloroflexota","Pseudomonadota","Acidobacteriota"],
        "range": ["#35877A","#FDB466","#FF7F7F","#009E73","#DBDAD5","#B5B5B5","#FF0029","#A0D5BF","#FDB07D","#00659B","#00BC87","#00BAE3","#FF5037"]},
      "legend": {"offset": 28}}
  }
},
{
  "data": {"name": "class"},
  "transform": [{"lookup": "taxon", "from": {"data": {"name": "classRank"}, "key": "taxon", "fields": ["rank"]}}],
  "width": 2266,
  "height": 1357,
  "mark": {"type": "bar", "stroke": "black", "strokeOpacity": 0.3, "strokeWidth": 2},
  "encoding": {
    "x": {"field": "sample", "type": "nominal", "sort": ["CK_FL","N_FL","NPK_FL","M_FL","MN_FL","MNPK_FL","CK_SL","N_SL","NPK_SL","M_SL","MN_SL","MNPK_SL","CK_TL","N_TL","NPK_TL","M_TL","MN_TL","MNPK_TL"], "scale": {"paddingInner": 0.19, "paddingOuter": 0.1},
      "axis": {"title": "(b)", "titleFontWeight": "normal", "titleX": 1416, "titleY": 333, "titleBaseline": "middle", "titleAlign": "center", "titleAngle": 0, "labelAngle": -45, "labelAlign": "right", "labelBaseline": "top", "labelPadding": 10, "labelOffset": 35, "labelFontSize": 57, "tickSize": -18, "labelOverlap": false}},
    "y": {"field": "value", "type": "quantitative", "stack": "zero", "scale": {"domain": [0, 100], "nice": false},
      "axis": {"title": "Relative abundance on Class level", "titlePadding": 6, "values": [0,10,20,30,40,50,60,70,80,90,100], "labelExpr": "datum.value % 20 === 0 ? datum.label : ''", "tickSize": -18, "labelPadding": 43}},
    "order": {"field": "rank", "type": "quantitative", "sort": "ascending"},
    "color": {"field": "taxon", "type": "nominal",
      "sort": ["Others","MBNT15","Gemmatimonadia","Planctomycetes","Acidobacteriae","bacteriap25","Bacilli","Nitrospiria","Alphaproteobacteria","Methylomirabilia","Vicinamibacteria","Gammaproteobacteria","Anaerolineae"],
      "scale": {"domain": ["Others","MBNT15","Gemmatimonadia","Planctomycetes","Acidobacteriae","bacteriap25","Bacilli","Nitrospiria","Alphaproteobacteria","Methylomirabilia","Vicinamibacteria","Gammaproteobacteria","Anaerolineae"],
        "range": ["#35877A","#FDB466","#FF7F7F","#009E73","#DBDAD5","#B5B5B5","#FF0029","#A0D5BF","#FDB07D","#00659B","#00BC87","#00BAE3","#FF5037"]},
      "legend": {"offset": 20}}
  }
}
],
"resolve": {"scale": {"color": "independent", "x": "independent", "y": "independent"}, "legend": {"color": "independent"}}
}
